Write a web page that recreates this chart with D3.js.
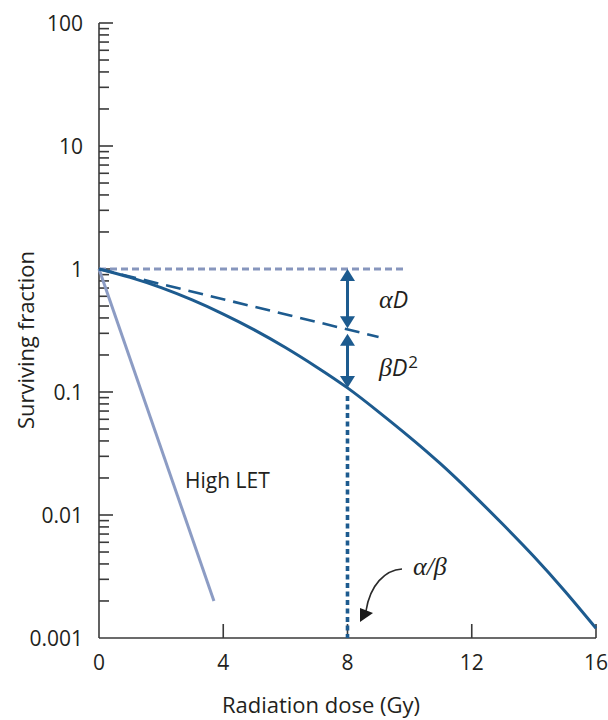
<!DOCTYPE html>
<html>
<head>
<meta charset="utf-8">
<script src="https://cdn.jsdelivr.net/npm/d3@7"></script>
<style>
  body { margin: 0; background: #fff; }
  svg text { font-family: "Open Sans", "Noto Sans", sans-serif; fill: #231f20; }
</style>
</head>
<body>
<div id="chart"></div>
<script>
// values
const doses = [0, 1, 2, 3, 4, 5, 6, 7, 8, 9, 10, 11, 12, 13, 14, 15, 16];
const lowLET = [1, 0.855, 0.705, 0.56, 0.43, 0.32, 0.23, 0.16, 0.108, 0.069, 0.043, 0.026, 0.015, 0.0084, 0.0046, 0.0024, 0.0012];
const alphaDose = [0, 9];
const alphaSF = [1, 0.28];
const highLETDose = [0, 3.7];
const highLETSF = [1, 0.002];
const unityDose = [0, 9.8];
const markDose = 8;          // alpha/beta
const markAlphaSF = 0.32;    // alpha-only curve at D=8
const xTicks = [0, 4, 8, 12, 16];
const yTicks = [100, 10, 1, 0.1, 0.01, 0.001];

const width = 608, height = 720;
const darkBlue = "#1d5b8f";
const lightBlue = "#8c9cc4";

const svg = d3.select("#chart").append("svg")
    .attr("width", width)
    .attr("height", height);

const x = d3.scaleLinear().domain([0, 16]).range([99, 596]);
const y = d3.scaleLog().domain([0.001, 100]).range([638, 23]);

// y axis, ticks inside
const minor = [];
yTicks.slice(1).forEach(t => { for (let k = 2; k <= 9; k++) minor.push(t * k); });

svg.append("line")
    .attr("x1", x(0)).attr("x2", x(0))
    .attr("y1", y(100)).attr("y2", y(0.001))
    .attr("stroke", "#3a3a3a").attr("stroke-width", 1.6);

svg.selectAll(".ymaj").data(yTicks.filter(t => t > 0.001)).join("line")
    .attr("x1", x(0)).attr("x2", x(0) + 14)
    .attr("y1", d => y(d)).attr("y2", d => y(d))
    .attr("stroke", "#3a3a3a").attr("stroke-width", 1.6);

svg.selectAll(".ymin").data(minor).join("line")
    .attr("x1", x(0)).attr("x2", x(0) + 10)
    .attr("y1", d => y(d)).attr("y2", d => y(d))
    .attr("stroke", "#3a3a3a").attr("stroke-width", 1.6);

svg.selectAll(".ylab").data(yTicks).join("text")
    .attr("x", x(0) - 16)
    .attr("y", d => y(d))
    .attr("dy", "0.36em")
    .attr("text-anchor", "end")
    .attr("font-size", 21)
    .text(d => d3.format("~g")(d));

// x axis, ticks pointing up
svg.append("line")
    .attr("x1", x(0)).attr("x2", x(16))
    .attr("y1", y(0.001)).attr("y2", y(0.001))
    .attr("stroke", "#3a3a3a").attr("stroke-width", 1.6);

svg.selectAll(".xt").data(xTicks.slice(1)).join("line")
    .attr("x1", d => x(d)).attr("x2", d => x(d))
    .attr("y1", y(0.001)).attr("y2", y(0.001) - 14)
    .attr("stroke", "#3a3a3a").attr("stroke-width", 1.6);

svg.selectAll(".xlab").data(xTicks).join("text")
    .attr("x", d => x(d))
    .attr("y", 670)
    .attr("text-anchor", "middle")
    .attr("font-size", 21)
    .text(d => d);

svg.append("text")
    .attr("x", 321).attr("y", 713)
    .attr("text-anchor", "middle")
    .attr("font-size", 22)
    .text("Radiation dose (Gy)");

svg.append("text")
    .attr("transform", `translate(34,340) rotate(-90)`)
    .attr("text-anchor", "middle")
    .attr("font-size", 22)
    .text("Surviving fraction");

const line = d3.line().x(d => x(d[0])).y(d => y(d[1]));

// SF = 1 reference
svg.append("path")
    .attr("d", line(d3.zip(unityDose, [1, 1])))
    .attr("fill", "none")
    .attr("stroke", "#8796bd")
    .attr("stroke-width", 3.2)
    .attr("stroke-dasharray", "7,4");

// high LET
svg.append("path")
    .attr("d", line(d3.zip(highLETDose, highLETSF)))
    .attr("fill", "none")
    .attr("stroke", lightBlue)
    .attr("stroke-width", 3);

// alpha component
svg.append("path")
    .attr("d", line(d3.zip(alphaDose, alphaSF)))
    .attr("fill", "none")
    .attr("stroke", darkBlue)
    .attr("stroke-width", 2.6)
    .attr("stroke-dasharray", "15,8");

// linear-quadratic curve
svg.append("path")
    .attr("d", d3.line().curve(d3.curveNatural).x(d => x(d[0])).y(d => y(d[1]))(d3.zip(doses, lowLET)))
    .attr("fill", "none")
    .attr("stroke", darkBlue)
    .attr("stroke-width", 3);

// dotted drop line at alpha/beta
const lqAtMark = lowLET[doses.indexOf(markDose)];
svg.append("line")
    .attr("x1", x(markDose)).attr("x2", x(markDose))
    .attr("y1", y(lqAtMark) + 8).attr("y2", y(0.001))
    .attr("stroke", darkBlue)
    .attr("stroke-width", 3.6)
    .attr("stroke-dasharray", "5,3.5");

// double-headed arrows
const arrow = (v1, v2) => {
    const xa = x(markDose), ya = y(v1), yb = y(v2);
    const hl = 12, hw = 7.5;
    svg.append("line")
        .attr("x1", xa).attr("x2", xa)
        .attr("y1", ya + hl - 1).attr("y2", yb - hl + 1)
        .attr("stroke", darkBlue).attr("stroke-width", 3);
    svg.append("path")
        .attr("d", `M${xa},${ya}L${xa - hw},${ya + hl}L${xa + hw},${ya + hl}Z`)
        .attr("fill", darkBlue);
    svg.append("path")
        .attr("d", `M${xa},${yb}L${xa - hw},${yb - hl}L${xa + hw},${yb - hl}Z`)
        .attr("fill", darkBlue);
};
arrow(1, markAlphaSF * 1.03);
arrow(markAlphaSF * 0.93, lqAtMark);

// labels
const mathLabel = (tx, ty, parts) => {
    const t = svg.append("text").attr("x", tx).attr("y", ty).attr("font-size", 23);
    parts.forEach(p => {
        const s = t.append("tspan").text(p.t).attr("font-style", "italic");
        if (p.serif) s.attr("font-family", "'Liberation Serif', serif").attr("font-size", 26);
        if (p.sup) s.attr("font-size", 17).attr("font-style", "normal").attr("dy", -8).attr("dx", 1);
    });
};
mathLabel(379, 308, [{ t: "α", serif: true }, { t: "D" }]);
mathLabel(379, 376, [{ t: "β", serif: true }, { t: "D" }, { t: "2", sup: true }]);
mathLabel(413, 575, [{ t: "α/β", serif: true }]);

svg.append("text")
    .attr("x", 185).attr("y", 488)
    .attr("font-size", 21)
    .text("High LET");

// curved pointer to the axis
svg.append("path")
    .attr("d", "M402,569 C385,570 370,585 366,611")
    .attr("fill", "none")
    .attr("stroke", "#2a2a2a")
    .attr("stroke-width", 1.6);
svg.append("path")
    .attr("d", "M360,622 L360,608 L373,613 Z")
    .attr("fill", "#1a1a1a");
</script>
</body>
</html>
